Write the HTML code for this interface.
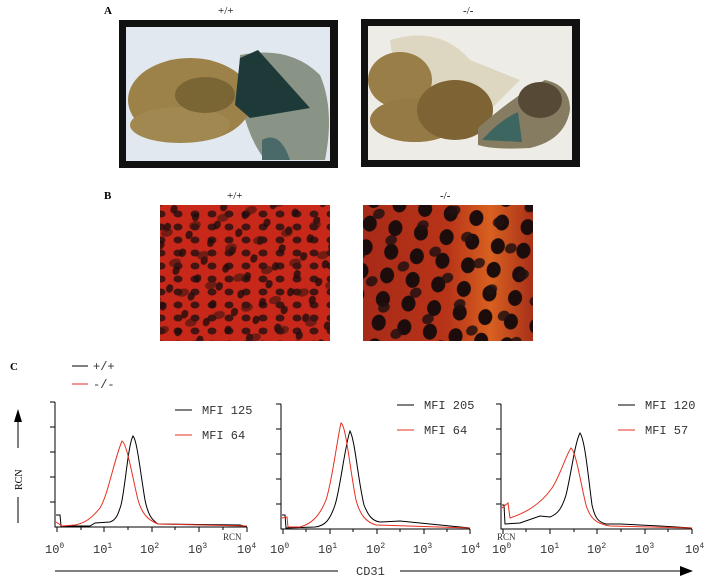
<!DOCTYPE html>
<html><head><meta charset="utf-8"><style>
body{margin:0;background:#fff;}
svg{display:block;font-family:"Liberation Serif",serif;}
.m{font-family:"Liberation Mono",monospace;font-size:12px;fill:#333;}
</style></head><body>
<svg width="710" height="584" viewBox="0 0 710 584" xmlns="http://www.w3.org/2000/svg">
<defs>
<pattern id="pa" width="17" height="13" patternUnits="userSpaceOnUse">
<ellipse cx="8" cy="6" rx="4.5" ry="3.5" fill="#2a1010" opacity="0.85"/>
</pattern>
<pattern id="pb" width="23" height="19" patternUnits="userSpaceOnUse" patternTransform="rotate(20)">
<ellipse cx="5" cy="4" rx="3.5" ry="4.5" fill="#200c0c" opacity="0.8"/>
</pattern>
<pattern id="pc" width="29" height="31" patternUnits="userSpaceOnUse" patternTransform="rotate(-15)">
<ellipse cx="14" cy="20" rx="6" ry="4" fill="#3a1410" opacity="0.6"/>
</pattern>
<pattern id="qa" width="26" height="24" patternUnits="userSpaceOnUse" patternTransform="rotate(10)">
<ellipse cx="13" cy="12" rx="7" ry="8" fill="#1c0c0c"/>
</pattern>
<pattern id="qb" width="35" height="29" patternUnits="userSpaceOnUse" patternTransform="rotate(-25)">
<ellipse cx="8" cy="6" rx="6" ry="5" fill="#221010" opacity="0.85"/>
</pattern>
<linearGradient id="gr2" x1="0" y1="0" x2="1" y2="0">
<stop offset="0" stop-color="#a82a18"/><stop offset="0.5" stop-color="#b83418"/><stop offset="0.75" stop-color="#d86020"/><stop offset="1" stop-color="#a83018"/>
</linearGradient>
</defs>
<text x="104" y="14" font-size="11" font-weight="bold">A</text>
<text x="218" y="14" font-size="11">+/+</text>
<text x="463" y="14" font-size="11">-/-</text>
<rect x="119" y="20" width="219" height="148" fill="#111"/>
<rect x="126" y="27" width="204" height="134" fill="#e2e8ef"/>
<path d="M240 55 Q290 45 320 75 Q335 110 325 160 L265 160 Q235 120 240 55Z" fill="#8a9486"/>
<ellipse cx="190" cy="100" rx="62" ry="42" fill="#9c8248"/>
<ellipse cx="180" cy="125" rx="50" ry="18" fill="#a08850"/>
<ellipse cx="205" cy="95" rx="30" ry="18" fill="#7a6535"/>
<path d="M240 58 L258 50 L310 108 L250 118 L235 105Z" fill="#1e3a38"/>
<path d="M262 140 Q280 130 290 160 L262 160Z" fill="#4a6a6a"/>
<rect x="361" y="19" width="219" height="148" fill="#111"/>
<rect x="368" y="26" width="204" height="134" fill="#eeece6"/>
<path d="M390 40 Q440 25 470 60 L520 80 L480 120 L400 110Z" fill="#ddd6c0"/>
<ellipse cx="400" cy="80" rx="32" ry="28" fill="#9a7e48"/>
<ellipse cx="415" cy="120" rx="45" ry="22" fill="#967a45"/>
<ellipse cx="455" cy="110" rx="38" ry="30" fill="#7e6434"/>
<path d="M478 128 Q515 95 545 80 Q570 85 570 110 Q565 140 530 148 Q495 150 478 145Z" fill="#857c62"/>
<ellipse cx="540" cy="100" rx="22" ry="18" fill="#564a36"/>
<path d="M482 140 Q500 120 518 112 L522 142Z" fill="#2a6060" opacity="0.8"/>
<text x="104" y="199" font-size="11" font-weight="bold">B</text>
<text x="227" y="199" font-size="11">+/+</text>
<text x="440" y="199" font-size="11">-/-</text>
<rect x="160" y="205" width="170" height="136" fill="#c8281a"/>
<rect x="160" y="205" width="170" height="136" fill="url(#pa)"/>
<rect x="160" y="205" width="170" height="136" fill="url(#pb)"/>
<rect x="160" y="205" width="170" height="136" fill="url(#pc)"/>
<rect x="363" y="205" width="170" height="136" fill="url(#gr2)"/>
<rect x="363" y="205" width="170" height="136" fill="url(#qa)"/>
<rect x="363" y="205" width="170" height="136" fill="url(#qb)"/>
<text x="10" y="370" font-size="11" font-weight="bold">C</text>
<line x1="72" y1="366" x2="88" y2="366" stroke="#000"/>
<text x="93" y="370" class="m">+/+</text>
<line x1="72" y1="384" x2="88" y2="384" stroke="#e53020"/>
<text x="93" y="388" class="m">-/-</text>
<line x1="18" y1="420" x2="18" y2="448" stroke="#000"/>
<polygon points="14,422 22,422 18,409" fill="#000"/>
<line x1="18" y1="497" x2="18" y2="523" stroke="#000"/>
<text transform="translate(22,490) rotate(-90)" font-size="10">RCN</text>
<line x1="55" y1="571" x2="338" y2="571" stroke="#000"/>
<text x="356" y="575" class="m">CD31</text>
<line x1="400" y1="571" x2="680" y2="571" stroke="#000"/>
<polygon points="680,566 693,571 680,576" fill="#000"/>
<g stroke="#000" fill="none" stroke-width="1">
<path d="M55 402 V527 H247"/>
<path d="M50 402h5M50 427h5M50 452h5M50 477h5M50 502h5"/>
<path d="M57 527v5M104 527v5M152 527v5M199 527v5M247 527v5M81 527v3M128 527v3M175 527v3M223 527v3"/>
<path d="M281 404 V529 H470"/>
<path d="M276 404h5M276 429h5M276 454h5M276 479h5M276 504h5"/>
<path d="M283 529v5M330 529v5M377 529v5M424 529v5M470 529v5M306 529v3M353 529v3M400 529v3M447 529v3"/>
<path d="M501 404 V529 H692"/>
<path d="M496 404h5M496 429h5M496 454h5M496 479h5M496 504h5"/>
<path d="M503 529v5M550 529v5M597 529v5M645 529v5M692 529v5M526 529v3M574 529v3M621 529v3M668 529v3"/>
</g>
<path d="M56 515 L60 515 L61 526 L90 526 L95 523 L110 522 C116 520 118 515 121 505 C125 490 128 445 133 436 C137 440 140 470 145 500 C148 515 152 520 158 524 L240 525 L247 527" fill="none" stroke="#000"/>
<path d="M56 522 L62 526 L75 525 C85 523 92 518 100 508 C108 495 114 460 122 441 C127 444 132 475 138 500 C142 514 148 520 158 524 L247 526" fill="none" stroke="#e53020"/>
<path d="M282 515 L285 515 L286 528 L315 527 C325 526 330 520 335 505 C340 490 345 445 350 431 C355 440 358 480 364 505 C368 515 372 521 380 522 L400 521 L440 525 L470 528" fill="none" stroke="#000"/>
<path d="M282 518 L287 517 L288 527 L300 527 C312 524 320 515 326 500 C332 482 337 440 341 423 C346 425 350 470 356 500 C360 515 366 522 376 525 L470 528" fill="none" stroke="#e53020"/>
<path d="M502 505 L504 505 L505 524 L520 523 L540 516 L550 517 C558 514 562 508 566 495 C571 475 575 442 580 433 C585 440 588 475 592 505 C595 518 598 522 606 524 L620 524 L660 526 L692 528" fill="none" stroke="#000"/>
<path d="M502 508 L508 503 L510 518 C525 513 540 505 552 488 C560 476 566 455 571 448 C576 452 580 480 586 505 C590 518 596 524 610 526 L692 528" fill="none" stroke="#e53020"/>
<line x1="175" y1="410" x2="192" y2="410" stroke="#000"/>
<text x="202" y="414" class="m">MFI 125</text>
<line x1="175" y1="435" x2="192" y2="435" stroke="#e53020"/>
<text x="202" y="439" class="m">MFI 64</text>
<line x1="397" y1="405" x2="414" y2="405" stroke="#000"/>
<text x="424" y="409" class="m">MFI 205</text>
<line x1="397" y1="430" x2="414" y2="430" stroke="#e53020"/>
<text x="424" y="434" class="m">MFI 64</text>
<line x1="618" y1="405" x2="635" y2="405" stroke="#000"/>
<text x="645" y="409" class="m">MFI 120</text>
<line x1="618" y1="430" x2="635" y2="430" stroke="#e53020"/>
<text x="645" y="434" class="m">MFI 57</text>
<g class="m" font-size="11">
<text x="45" y="553">10<tspan dy="-5" font-size="8">0</tspan></text>
<text x="93" y="553">10<tspan dy="-5" font-size="8">1</tspan></text>
<text x="140" y="553">10<tspan dy="-5" font-size="8">2</tspan></text>
<text x="188" y="553">10<tspan dy="-5" font-size="8">3</tspan></text>
<text x="237" y="553">10<tspan dy="-5" font-size="8">4</tspan></text>
<text x="270" y="553">10<tspan dy="-5" font-size="8">0</tspan></text>
<text x="318" y="553">10<tspan dy="-5" font-size="8">1</tspan></text>
<text x="366" y="553">10<tspan dy="-5" font-size="8">2</tspan></text>
<text x="413" y="553">10<tspan dy="-5" font-size="8">3</tspan></text>
<text x="461" y="553">10<tspan dy="-5" font-size="8">4</tspan></text>
<text x="492" y="553">10<tspan dy="-5" font-size="8">0</tspan></text>
<text x="540" y="553">10<tspan dy="-5" font-size="8">1</tspan></text>
<text x="587" y="553">10<tspan dy="-5" font-size="8">2</tspan></text>
<text x="635" y="553">10<tspan dy="-5" font-size="8">3</tspan></text>
<text x="685" y="553">10<tspan dy="-5" font-size="8">4</tspan></text>
</g>
<text x="223" y="540" font-size="9" fill="#333">RCN</text>
<text x="497" y="540" font-size="9" fill="#333">RCN</text>
</svg>
</body></html>
